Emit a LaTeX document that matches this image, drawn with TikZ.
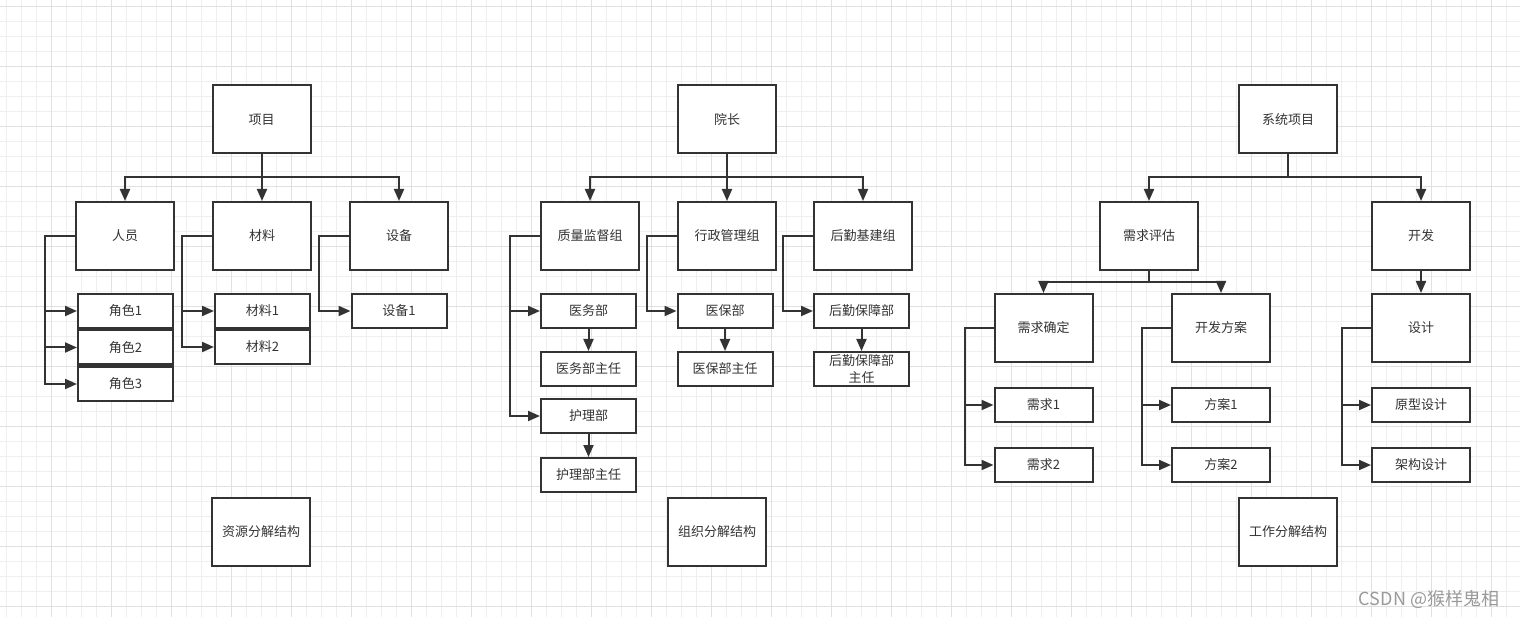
\documentclass[tikz,border=0pt]{standalone}
\usepackage{fontspec}
\setmainfont{Noto Sans CJK SC}
\usetikzlibrary{arrows.meta}
\definecolor{ln}{HTML}{333333}
\definecolor{txt}{HTML}{333333}
\definecolor{gmin}{HTML}{EFEFEF}
\definecolor{gmaj}{HTML}{E0E0E0}
\definecolor{wm}{HTML}{9A9A9A}
\begin{document}
\begin{tikzpicture}[x=1pt,y=-1pt,
  box/.style={draw=ln, line width=2pt, fill=white, minimum width=98pt, minimum height=68pt,
    inner sep=0pt, font=\fontsize{13}{16.5}\selectfont, text=txt, align=center},
  sbox/.style={box, minimum width=95pt, minimum height=34pt},
  mbox/.style={box, minimum height=34pt},
  arr/.style={draw=ln, line width=2pt, -{Triangle[length=12pt,width=10pt]}},
  link/.style={draw=ln, line width=2pt}]
\useasboundingbox (0,0) rectangle (1520,617);
\fill[white] (0,0) rectangle (1520,617);
% grid
\foreach \x in {6.7,21.7,...,1520} \draw[gmin,line width=1pt] (\x,0) -- (\x,617);
\foreach \y in {6.7,21.7,...,617} \draw[gmin,line width=1pt] (0,\y) -- (1520,\y);
\foreach \x in {51.7,111.7,...,1520} \draw[gmaj,line width=1pt] (\x,0) -- (\x,617);
\foreach \y in {6.7,66.7,...,617} \draw[gmaj,line width=1pt] (0,\y) -- (1520,\y);

% ===== group 1 =====
\node[box] (xm) at (261.5,119.5) {项目};
\node[box] (ry) at (125,236) {人员};
\node[box] (cl) at (262,236) {材料};
\node[box] (sb) at (399,236) {设备};
\node[sbox] (js1) at (125.5,311) {角色1};
\node[sbox] (js2) at (125.5,347.5) {角色2};
\node[sbox] (js3) at (125.5,384) {角色3};
\node[sbox] (cl1) at (262.5,311) {材料1};
\node[sbox] (cl2) at (262.5,347) {材料2};
\node[sbox] (sb1) at (399,311) {设备1};
\node[box] (zy) at (261,532) {资源分解结构};

\foreach \c in {ry,cl,sb} \draw[arr] (xm.south) -- ++(0,23) -| (\c.north);
\foreach \c in {js1,js2,js3} \draw[arr] (ry.west) -- ++(-30,0) |- (\c.west);
\foreach \c in {cl1,cl2} \draw[arr] (cl.west) -- ++(-30,0) |- (\c.west);
\draw[arr] (sb.west) -- ++(-30,0) |- (sb1.west);

% ===== group 2 =====
\node[box] (yz) at (727,119.5) {院长};
\node[box] (zl) at (590,236) {质量监督组};
\node[box] (xz) at (727,236) {行政管理组};
\node[box] (hq) at (863,236) {后勤基建组};
\node[sbox] (ywb) at (588.5,311) {医务部};
\node[sbox] (ywzr) at (588.5,369) {医务部主任};
\node[sbox] (hlb) at (588.5,416) {护理部};
\node[sbox] (hlzr) at (588.5,475) {护理部主任};
\node[sbox] (ybb) at (725,311) {医保部};
\node[sbox] (ybzr) at (725,369) {医保部主任};
\node[sbox] (hqb) at (861.5,311) {后勤保障部};
\node[sbox] (hqzr) at (861.5,369) {后勤保障部\\主任};
\node[box] (zz) at (717,532) {组织分解结构};

\foreach \c in {zl,xz,hq} \draw[arr] (yz.south) -- ++(0,23) -| (\c.north);
\foreach \c in {ywb,hlb} \draw[arr] (zl.west) -- ++(-30,0) |- (\c.west);
\draw[arr] (xz.west) -- ++(-30,0) |- (ybb.west);
\draw[arr] (hq.west) -- ++(-30,0) |- (hqb.west);
\draw[arr] (ywb.south) -- (ywzr.north);
\draw[arr] (hlb.south) -- (hlzr.north);
\draw[arr] (ybb.south) -- (ybzr.north);
\draw[arr] (hqb.south) -- (hqzr.north);

% ===== group 3 =====
\node[box] (xt) at (1288,119.5) {系统项目};
\node[box] (xqpg) at (1149,236) {需求评估};
\node[box] (kf) at (1421,236) {开发};
\node[box] (xqqd) at (1043.5,328) {需求确定};
\node[box] (kffa) at (1221,328) {开发方案};
\node[box] (sj) at (1421,328) {设计};
\node[mbox] (xq1) at (1043.5,405) {需求1};
\node[mbox] (xq2) at (1043.5,465) {需求2};
\node[mbox] (fa1) at (1221,405) {方案1};
\node[mbox] (fa2) at (1221,465) {方案2};
\node[mbox] (yx) at (1421,405) {原型设计};
\node[mbox] (jg) at (1421,465) {架构设计};
\node[box] (gz) at (1288,532) {工作分解结构};

\foreach \c in {xqpg,kf} \draw[arr] (xt.south) -- ++(0,23) -| (\c.north);
\foreach \c in {xqqd,kffa} \draw[arr] (xqpg.south) -- ++(0,11.5) -| (\c.north);
\draw[arr] (kf.south) -- (sj.north);
\foreach \c in {xq1,xq2} \draw[arr] (xqqd.west) -- ++(-29,0) |- (\c.west);
\foreach \c in {fa1,fa2} \draw[arr] (kffa.west) -- ++(-29,0) |- (\c.west);
\foreach \c in {yx,jg} \draw[arr] (sj.west) -- ++(-29,0) |- (\c.west);

% watermark
\node[text=wm, font=\fontsize{18}{21}\selectfont, inner sep=0pt] (wmk) at (1429,599) {CSDN @猴样鬼相};
\end{tikzpicture}
\end{document}
